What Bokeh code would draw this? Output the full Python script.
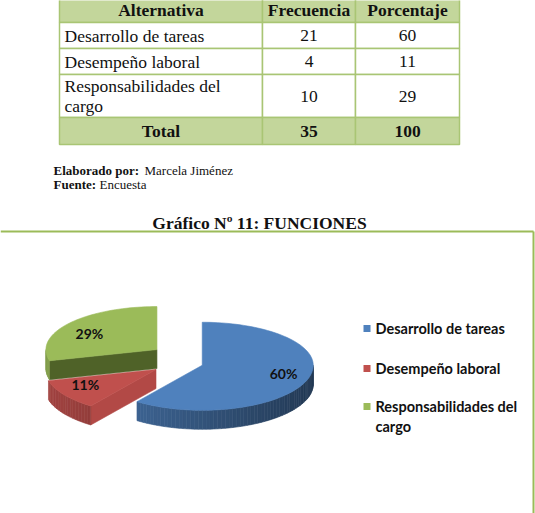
import math
from bokeh.plotting import figure
from bokeh.models import Range1d, ColumnDataSource
from bokeh.core.properties import value
from bokeh.embed import file_html
from bokeh.resources import INLINE

# ---------------- data ----------------
headers = ["Alternativa", "Frecuencia", "Porcentaje"]
table_labels = ["Desarrollo de tareas", "Desempeño laboral", "Responsabilidades del\ncargo"]
frequencies = [21, 4, 10]
percentages = [60, 11, 29]
total_label = "Total"
total_freq = 35
total_pct = 100
legend_labels = ["Desarrollo de tareas", "Desempeño laboral", "Responsabilidades del\ncargo"]
colors = ["#4F81BD", "#C0504D", "#9BBB59"]
title = "Gráfico Nº 11: FUNCIONES"
credits = [("Elaborado por:", "Marcela Jiménez"), ("Fuente:", "Encuesta")]

# ---------------- figure ----------------
W, H = 535, 513
p = figure(width=W, height=H, x_range=Range1d(0, W), y_range=Range1d(H, 0),
           output_backend="svg", toolbar_location=None,
           x_axis_location=None, y_axis_location=None, min_border=0)
p.grid.visible = False
p.outline_line_color = None
p.background_fill_color = "white"
p.border_fill_color = "white"

SERIF = value("Liberation Serif")
SANS = value("Lato")

# ---------------- table ----------------
col_edges = [59, 262, 355, 459]
row_edges = [-4, 22, 48, 74, 117, 144]
head_fill = "#C3D69B"
grid_col = "#A9C574"

rows = [headers] + [[lab, str(f), str(pc)] for lab, f, pc in zip(table_labels, frequencies, percentages)] \
       + [[total_label, str(total_freq), str(total_pct)]]
nrows = len(rows)
ql, qr, qt, qb, qf = [], [], [], [], []
for r in range(nrows):
    for c in range(3):
        ql.append(col_edges[c]); qr.append(col_edges[c + 1])
        qt.append(row_edges[r]); qb.append(row_edges[r + 1])
        qf.append(head_fill if r in (0, nrows - 1) else "white")
p.quad(left=ql, right=qr, top=qt, bottom=qb, fill_color=qf, line_color=grid_col, line_width=1.5)

line_h = 20
for r, row in enumerate(rows):
    bold = r in (0, nrows - 1)
    yc = (row_edges[r] + row_edges[r + 1]) / 2
    for c, txt in enumerate(row):
        lines = txt.split("\n")
        for k, ln in enumerate(lines):
            yy = yc + (k - (len(lines) - 1) / 2) * line_h
            if c == 0 and not bold:
                xx, al = col_edges[0] + 5, "left"
            else:
                xx, al = (col_edges[c] + col_edges[c + 1]) / 2, "center"
            p.text(x=[xx], y=[yy], text=[ln], text_font=SERIF, text_font_size="17.5px",
                   text_font_style="bold" if bold else "normal", text_align=al,
                   text_baseline="middle", text_color="#111111")

# ---------------- credits & title ----------------
cred_y = [170, 184]
cred_x2 = [144, 99]
for (b, t), yy, x2 in zip(credits, cred_y, cred_x2):
    p.text(x=[53], y=[yy], text=[b], text_font=SERIF, text_font_size="13px",
           text_font_style="bold", text_baseline="middle", text_color="#111111")
    p.text(x=[x2], y=[yy], text=[t], text_font=SERIF, text_font_size="13px",
           text_baseline="middle", text_color="#111111")

p.text(x=[259], y=[222], text=[title], text_font=SERIF, text_font_size="17.5px",
       text_font_style="bold", text_align="center", text_baseline="middle", text_color="#111111")

# chart border
border = "#9BBB59"
p.segment(x0=[0, 533], y0=[231, 231], x1=[533, 533], y1=[231, H], line_color=border, line_width=2)

# ---------------- 3D exploded pie ----------------
CX, CY = 177, 359.5
RX = 111
RY_BACK, RY_FRONT = 43, 45
DEPTH = 19
EX, EY = 26, 17
face_colors = ["#3A5F8F", "#B24946", "#4F6228"]


def hex_to_rgb(h):
    h = h.lstrip("#")
    return tuple(int(h[i:i + 2], 16) for i in (0, 2, 4))


def shade(h, f):
    r, g, b = hex_to_rgb(h)
    return "#%02x%02x%02x" % (min(255, int(r * f)), min(255, int(g * f)), min(255, int(b * f)))


total = sum(percentages)
starts, ends = [], []
acc = 0.0
for v in percentages:
    starts.append(acc * 360 / total)
    acc += v
    ends.append(acc * 360 / total)

pxs, pys, pcols = [], [], []
label_x, label_y, label_t = [], [], []


def add(xs, ys, col):
    pxs.append(xs); pys.append(ys); pcols.append(col)


def ry_for(tr):
    return RY_BACK if math.cos(tr) > 0 else RY_FRONT


centers = []
for i, v in enumerate(percentages):
    m = math.radians((starts[i] + ends[i]) / 2)
    cx = CX + EX * math.sin(m)
    cy = CY - EY * math.cos(m)
    centers.append((cx, cy))
    label_x.append(cx + 0.77 * RX * math.sin(m))
    label_y.append(cy - 0.6 * ry_for(m) * math.cos(m))
    label_t.append("%d%%" % v)

order = [2, 1, 0]
for i in order:
    cx, cy = centers[i]
    a, b = starts[i], ends[i]

    def pt(t, dz=0.0):
        tr = math.radians(t)
        return cx + RX * math.sin(tr), cy - ry_for(tr) * math.cos(tr) + dz

    # cut face at start angle
    if -math.sin(math.radians(a)) > 0.05:
        x1, y1 = pt(a)
        add([cx, x1, x1, cx], [cy, y1, y1 + DEPTH, cy + DEPTH], face_colors[i])
    # outer rim (front part)
    r0, r1 = max(a, 90), min(b, 270)
    if r1 > r0:
        n = max(2, int((r1 - r0) / 2))
        for k in range(n):
            t1 = r0 + (r1 - r0) * k / n
            t2 = r0 + (r1 - r0) * (k + 1) / n
            x1, y1 = pt(t1); x2, y2 = pt(t2)
            tm = math.radians((t1 + t2) / 2)
            f = 0.45 + 0.4 * (1 - math.sin(tm)) / 2
            c = shade(colors[i], f)
            add([x1, x2, x2, x1], [y1, y2, y2 + DEPTH, y1 + DEPTH], c)
    # top face
    n = max(4, int((b - a) / 2))
    xs, ys = [cx], [cy]
    for k in range(n + 1):
        x, y = pt(a + (b - a) * k / n)
        xs.append(x); ys.append(y)
    add(xs, ys, colors[i])

src = ColumnDataSource(dict(xs=pxs, ys=pys, c=pcols))
p.patches("xs", "ys", source=src, fill_color="c", line_color="c", line_width=0.6)

p.text(x=label_x, y=label_y, text=label_t, text_font=SANS, text_font_size="14px",
       text_font_style="bold", text_align="center", text_baseline="middle", text_color="#111111")

# ---------------- legend ----------------
leg_y = [328, 368, 406]
leg_line_h = 20
p.rect(x=[366.5] * 3, y=leg_y, width=7, height=7, fill_color=colors, line_color=None)
for lab, yy in zip(legend_labels, leg_y):
    for k, ln in enumerate(lab.split("\n")):
        p.text(x=[375], y=[yy + k * leg_line_h], text=[ln], text_font=SANS, text_font_size="14.5px",
               text_font_style="bold", text_baseline="middle", text_color="#111111")

open("out.html", "w").write(file_html(p, INLINE))
